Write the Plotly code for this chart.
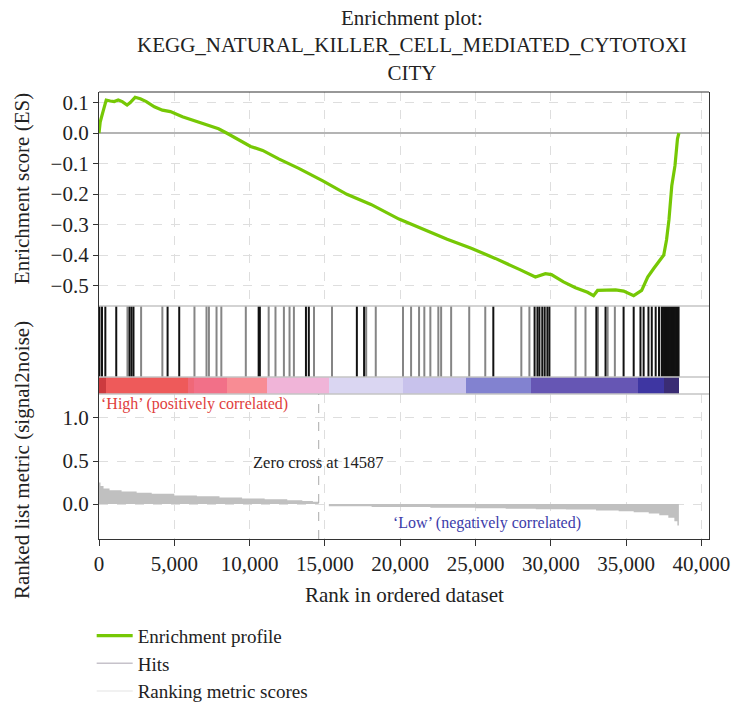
import plotly.graph_objects as go
from plotly.subplots import make_subplots

# ---------------- data ----------------
title_lines = ["Enrichment plot:", "KEGG_NATURAL_KILLER_CELL_MEDIATED_CYTOTOXI", "CITY"]

es_rank = [0, 80, 266, 479, 746, 1012, 1278, 1545, 1864, 2077, 2397, 2743, 3142, 3675,
           4208, 4740, 5539, 6338, 7137, 7936, 8468, 9267, 10066, 10865, 11930, 13262,
           14860, 16457, 18055, 19919, 21517, 23115, 24713, 26310, 27908, 28973, 29639,
           30038, 30837, 31636, 32435, 32835, 33101, 33767, 34300, 34832, 35498, 36030,
           36430, 36829, 37229, 37496, 37682, 37842, 38028, 38241, 38407, 38500]
es_value = [0.0, 0.036, 0.07, 0.108, 0.105, 0.103, 0.108, 0.103, 0.092, 0.100, 0.117, 0.112,
            0.103, 0.086, 0.075, 0.070, 0.053, 0.040, 0.025, 0.014, 0.0, -0.022, -0.044,
            -0.057, -0.085, -0.116, -0.157, -0.201, -0.234, -0.282, -0.315, -0.348, -0.378,
            -0.411, -0.447, -0.472, -0.461, -0.464, -0.488, -0.507, -0.522, -0.533, -0.516,
            -0.514, -0.514, -0.518, -0.533, -0.516, -0.472, -0.444, -0.417, -0.400, -0.350,
            -0.284, -0.173, -0.107, -0.019, 0.0]

hits_black = [30, 200, 420, 1145, 2025, 2157, 2290, 4554, 5326, 10600, 10680, 13740, 13930,
              17120, 17600, 26180, 28920, 29110, 29240, 29430, 29590, 29770, 29905, 33020,
              33630, 34830, 35500, 35950, 36160, 36480, 36700, 36960, 37180, 37360, 37440,
              37520, 37600, 37680, 37760, 37840, 37920, 38000, 38080, 38160, 38240, 38320,
              38400, 38480]
hits_gray = [1890, 2796, 4207, 6338, 7137, 7297, 7803, 8122, 9747, 11265, 11717, 12276, 12650,
             12940, 14275, 15470, 17740, 18375, 20185, 20720, 21250, 21600, 22000, 22530,
             22715, 23380, 24580, 25645, 28040, 28575, 31640, 32300, 33130, 33770, 34250]

metric_rank = [0, 100, 300, 700, 1500, 2500, 3500, 5000, 6500, 8000, 9500, 11000, 12500,
               13500, 14200, 14587, 15260, 18100, 22000, 25000, 27000, 29000, 31000, 33000,
               34500, 35500, 36500, 37200, 37800, 38200, 38400, 38500]
metric_value = [0.25, 0.21, 0.18, 0.16, 0.145, 0.13, 0.12, 0.10, 0.09, 0.075, 0.065, 0.055,
                0.045, 0.035, 0.025, 0.0, -0.025, -0.035, -0.045, -0.05, -0.055, -0.06,
                -0.065, -0.075, -0.085, -0.095, -0.11, -0.13, -0.16, -0.2, -0.25, -0.3]

band_edges = [0, 480, 5940, 6340, 8470, 11130, 15260, 20185, 24390, 28710, 35760, 37500, 38500]
band_colors = ["#cc3a3e", "#ee5a5a", "#f06878", "#f27088", "#f88c94", "#f0b4d8", "#dad6f2",
               "#c8c2ec", "#8282d0", "#6656b4", "#3e36a2", "#3a2c74"]

zero_cross = 14587
x_ticks = [0, 5000, 10000, 15000, 20000, 25000, 30000, 35000, 40000]
es_ticks = [-0.5, -0.4, -0.3, -0.2, -0.1, 0.0, 0.1]
metric_ticks = [0.0, 0.5, 1.0]

FONT = "Liberation Serif"
DARK = "#333333"
GRID = "#dedede"
SEP = "#c4c4c4"

# ---------------- figure ----------------
fig = make_subplots(rows=4, cols=1, shared_xaxes=True, vertical_spacing=0,
                    row_heights=[214, 71, 17, 145])

fig.add_trace(go.Scatter(x=es_rank, y=es_value, mode="lines", name="Enrichment profile",
                         line=dict(color="#76c805", width=3.2)), row=1, col=1)

def vlines(ranks):
    xs, ys = [], []
    for r in ranks:
        xs += [r, r, None]
        ys += [0, 1, None]
    return xs, ys

xb, yb = vlines(hits_gray)
fig.add_trace(go.Scatter(x=xb, y=yb, mode="lines", line=dict(color="#858585", width=2),
                         showlegend=False, hoverinfo="skip"), row=2, col=1)
xb, yb = vlines(hits_black)
fig.add_trace(go.Scatter(x=xb, y=yb, mode="lines", line=dict(color="#111111", width=2),
                         showlegend=False, hoverinfo="skip"), row=2, col=1)

mids = [(band_edges[i] + band_edges[i + 1]) / 2 for i in range(len(band_colors))]
widths = [band_edges[i + 1] - band_edges[i] for i in range(len(band_colors))]
fig.add_trace(go.Bar(x=mids, y=[1] * len(mids), width=widths, marker_color=band_colors,
                     marker_line_width=0, showlegend=False), row=3, col=1)

fig.add_trace(go.Scatter(x=metric_rank, y=metric_value, mode="lines", line_shape="hv",
                         fill="tozeroy", fillcolor="#c0c0c0",
                         line=dict(width=0, color="#c0c0c0"), showlegend=False), row=4, col=1)

# legend-only entries
fig.add_trace(go.Scatter(x=[None], y=[None], mode="lines", name="Hits",
                         line=dict(color="#c6c2ca", width=1.5)), row=1, col=1)
fig.add_trace(go.Scatter(x=[None], y=[None], mode="lines", name="Ranking metric scores",
                         line=dict(color="#ececec", width=1.5)), row=1, col=1)

# axes
for i in range(1, 5):
    fig.update_xaxes(range=[0, 40500], tickvals=x_ticks, zeroline=False,
                     showgrid=(i in (1, 4)), gridcolor=GRID, griddash="dash", gridwidth=1,
                     showline=False, row=i, col=1)
fig.update_xaxes(showline=True, linecolor=DARK, linewidth=1.2, ticks="outside", ticklen=6,
                 tickcolor=DARK, tickformat=",", tickfont=dict(size=21),
                 row=4, col=1)

fig.update_yaxes(range=[-0.567, 0.1344], tickvals=es_ticks, tickformat=".1f",
                 ticks="outside", ticklen=5, tickcolor=DARK, showline=True, mirror=True,
                 linecolor=DARK, linewidth=1.2, showgrid=True, gridcolor=GRID, griddash="dash",
                 zeroline=True, zerolinecolor="#b4b4b4", zerolinewidth=2,
                 tickfont=dict(size=21), row=1, col=1)
for i in (2, 3):
    fig.update_yaxes(range=[0, 1], showticklabels=False, ticks="", showgrid=False,
                     zeroline=False, showline=True, mirror=True, linecolor=DARK,
                     linewidth=1.2, fixedrange=True, row=i, col=1)
fig.update_yaxes(range=[-0.407, 1.279], tickvals=metric_ticks, tickformat=".1f",
                 ticks="outside", ticklen=5, tickcolor=DARK, showline=True, mirror=True,
                 linecolor=DARK, linewidth=1.2, showgrid=True, gridcolor=GRID, griddash="dash",
                 zeroline=False, tickfont=dict(size=21), row=4, col=1)

# borders / separators
shapes = [
    dict(type="line", xref="paper", yref="y domain", x0=0, x1=1, y0=1, y1=1,
         line=dict(color=DARK, width=1.2)),
    dict(type="line", xref="paper", yref="y2 domain", x0=0, x1=1, y0=1, y1=1,
         line=dict(color=SEP, width=1.5)),
    dict(type="line", xref="paper", yref="y2 domain", x0=0, x1=1, y0=0, y1=0,
         line=dict(color=SEP, width=1.5)),
    dict(type="line", xref="paper", yref="y3 domain", x0=0, x1=1, y0=0, y1=0,
         line=dict(color=SEP, width=1.5)),
    dict(type="line", xref="x4", yref="y4 domain", x0=zero_cross, x1=zero_cross, y0=0, y1=1,
         line=dict(color="#aaaaaa", width=1, dash="dash")),
]

annotations = [
    dict(text="<br>".join(title_lines), xref="paper", yref="paper", x=0.513, y=1.197,
         xanchor="center", yanchor="top", showarrow=False, align="center",
         font=dict(size=21, color="#222222", family=FONT)),
    dict(text="‘High’ (positively correlated)", xref="x4", yref="y4", x=0, y=1.16,
         xanchor="left", yanchor="middle", showarrow=False,
         font=dict(size=16, color="#e0403c", family=FONT)),
    dict(text="‘Low’ (negatively correlated)", xref="x4", yref="y4", x=32150, y=-0.22,
         xanchor="right", yanchor="middle", showarrow=False,
         font=dict(size=16, color="#3c3caa", family=FONT)),
    dict(text="Zero cross at 14587", xref="x4", yref="y4", x=zero_cross, y=0.477,
         xanchor="center", yanchor="middle", showarrow=False,
         font=dict(size=16.5, color="#222222", family=FONT)),
    dict(text="Enrichment score (ES)", xref="paper", yref="paper", x=-0.126, y=0.783,
         xanchor="center", yanchor="middle", textangle=-90, showarrow=False,
         font=dict(size=21, color="#222222", family=FONT)),
    dict(text="Ranked list metric (signal2noise)", xref="paper", yref="paper", x=-0.126,
         y=0.177, xanchor="center", yanchor="middle", textangle=-90, showarrow=False,
         font=dict(size=21, color="#222222", family=FONT)),
    dict(text="Rank in ordered dataset", xref="paper", yref="paper", x=0.5, y=-0.125,
         xanchor="center", yanchor="middle", showarrow=False,
         font=dict(size=21, color="#222222", family=FONT)),
]

fig.update_layout(
    width=733, height=703,
    margin=dict(l=99, r=24, t=92, b=164, autoexpand=False),
    paper_bgcolor="white", plot_bgcolor="white",
    font=dict(family=FONT, size=21, color="#222222"),
    showlegend=True,
    legend=dict(x=-0.012, y=-0.174, xanchor="left", yanchor="top", orientation="v",
                font=dict(size=19, family=FONT, color="#222222"), bgcolor="rgba(0,0,0,0)",
                tracegroupgap=0, itemwidth=36),
    shapes=shapes,
    annotations=annotations,
    bargap=0,
)

fig.write_html("out.html")
